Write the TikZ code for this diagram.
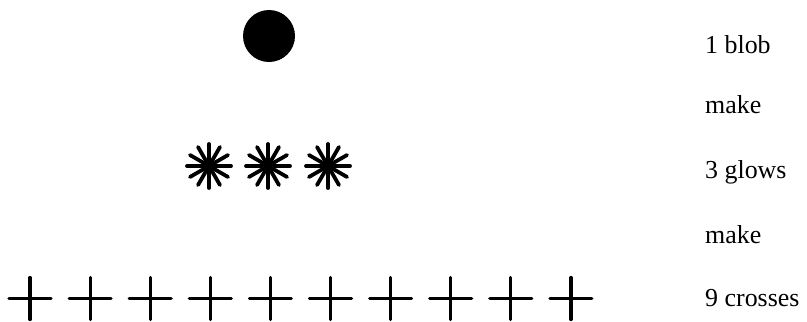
\documentclass[tikz,border=0pt]{standalone}
\usepackage{fontspec}
\setmainfont{Liberation Serif}
\usetikzlibrary{calc}
\begin{document}
\begin{tikzpicture}[x=1bp,y=-1bp,
  lbl/.style={anchor=base west,inner sep=0pt,font=\fontsize{26}{30}\selectfont},
  ray/.style={line width=3.8bp,line cap=round},
  crossline/.style={line width=3.2bp,line cap=round}]
\useasboundingbox (0,0) rectangle (807,321);
% blob
\node[circle,fill=black,minimum size=52bp,inner sep=0pt] (blob) at (269,36) {};
% glows
\foreach \i/\x in {1/209,2/268,3/328}{
  \coordinate (g\i) at (\x,166);
  \foreach \a in {0,30,60,90,120,150}{
    \draw[ray] ($(g\i)+(\a:22)$) -- ($(g\i)+(\a+180:22)$);
  }
  \fill (g\i) circle (7bp);
}
% crosses
\foreach \i in {0,...,9}{
  \coordinate (c\i) at (30+60.1*\i,298.5);
  \draw[crossline] ($(c\i)+(-21,0)$) -- ($(c\i)+(21,0)$);
  \draw[crossline] ($(c\i)+(0,-21)$) -- ($(c\i)+(0,21)$);
}
% labels
\node[lbl] (t1) at (705,53) {1 blob};
\node[lbl] (t2) at (705,113) {make};
\node[lbl] (t3) at (705,178) {3 glows};
\node[lbl] (t4) at (705,243) {make};
\node[lbl] (t5) at (705,306) {9 crosses};
\end{tikzpicture}
\end{document}
